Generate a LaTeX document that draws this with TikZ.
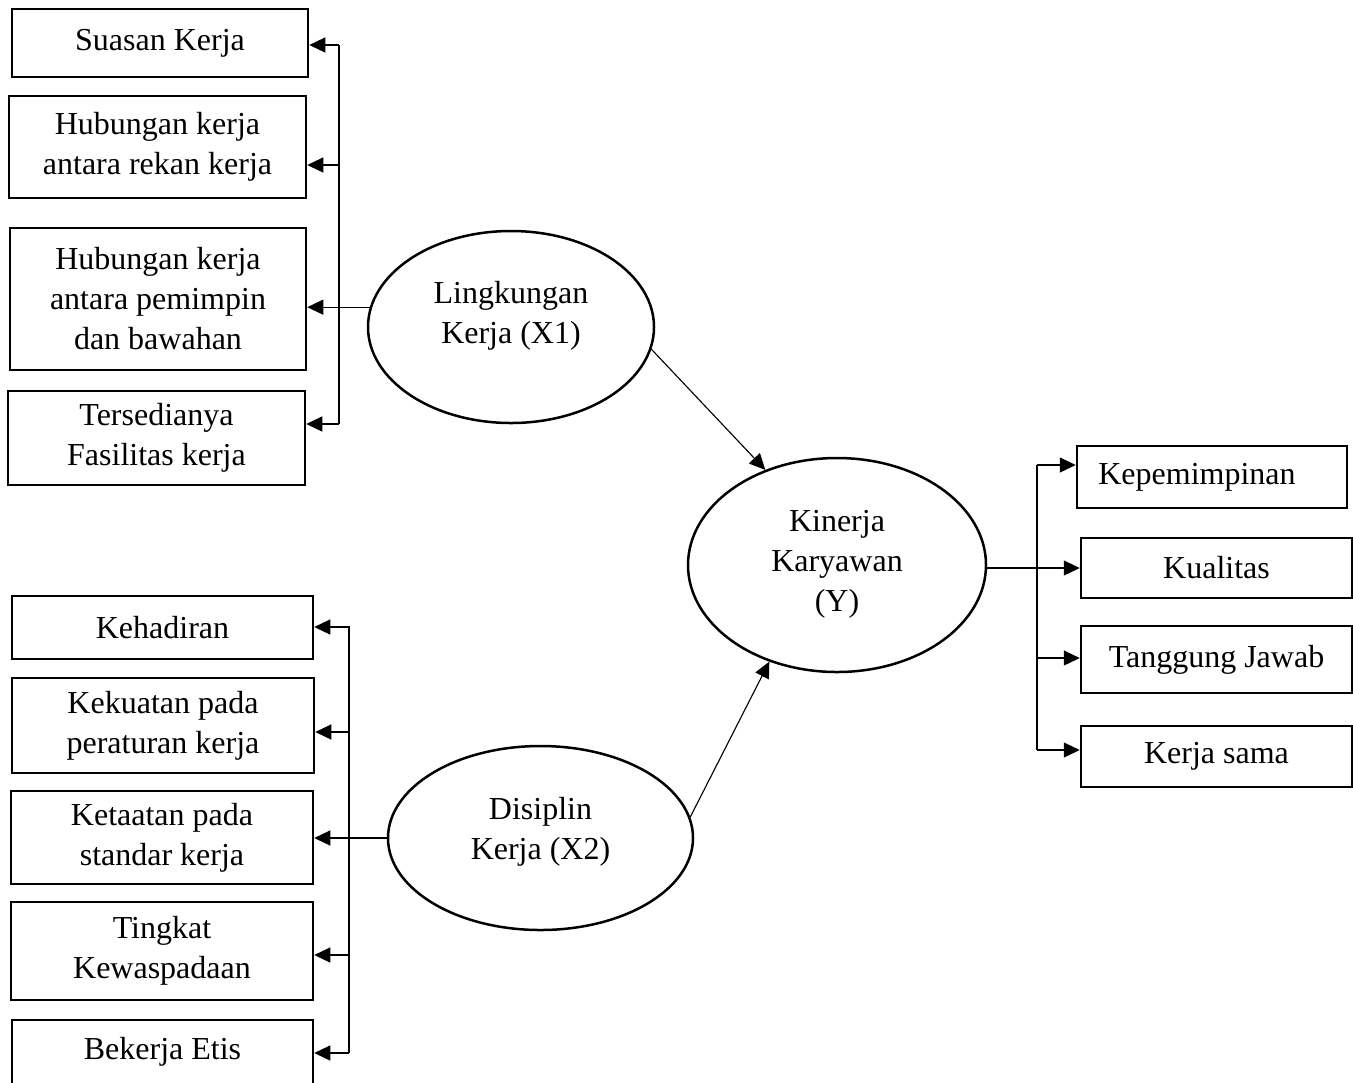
\documentclass[tikz,border=0pt]{standalone}
\usepackage{fontspec}
\setmainfont{Liberation Serif}
\usetikzlibrary{arrows.meta,shapes.geometric}

\begin{document}
\begin{tikzpicture}[x=0.4pt,y=-0.4pt,
  font=\fontsize{12.8}{16}\selectfont,
  ind/.style={draw, line width=1pt, align=center, inner sep=0pt},
  var/.style={draw, ellipse, line width=1pt, inner sep=0pt},
  lbl/.style={align=center, inner sep=0pt},
  arr/.style={line width=0.45pt, -{Triangle[length=6.4pt,width=6pt]}},
  ln/.style={line width=0.45pt}]
\useasboundingbox (0,0) rectangle (1353,1082);

% latent variables
\node[var, minimum width=114.4pt, minimum height=76.8pt] (lk) at (511,327) {};
\node[lbl] (lkt) at (511,316) {Lingkungan\\Kerja (X1)};
\node[var, minimum width=122pt, minimum height=73.6pt] (dk) at (540.5,838) {};
\node[lbl] (dkt) at (540.5,832) {Disiplin\\Kerja (X2)};
\node[var, minimum width=119.2pt, minimum height=85.6pt] (ky) at (837,565) {};
\node[lbl] (kyt) at (837,564) {Kinerja\\Karyawan\\(Y)};

% indicators X1
\node[ind, minimum width=118.4pt, minimum height=27.2pt] (s1) at (160,43) {Suasan Kerja};
\node[ind, minimum width=118.8pt, minimum height=40.8pt] (s2) at (157.5,147) {Hubungan kerja\\antara rekan kerja};
\node[ind, minimum width=118.4pt, minimum height=56.8pt] (s3) at (158,299) {Hubungan kerja\\antara pemimpin\\dan bawahan};
\node[ind, minimum width=118.8pt, minimum height=37.6pt] (s4) at (156.5,438) {Tersedianya\\Fasilitas kerja};

% indicators X2
\node[ind, minimum width=120.4pt, minimum height=25.2pt] (d1) at (162.5,627.5) {Kehadiran};
\node[ind, minimum width=120.8pt, minimum height=38pt] (d2) at (163,725.5) {Kekuatan pada\\peraturan kerja};
\node[ind, minimum width=120.8pt, minimum height=37.2pt] (d3) at (162,837.5) {Ketaatan pada\\standar kerja};
\node[ind, minimum width=120.8pt, minimum height=39.2pt] (d4) at (162,951) {Tingkat\\Kewaspadaan};
\node[ind, minimum width=120.4pt, minimum height=25.6pt] (d5) at (162.5,1052) {Bekerja Etis};

% indicators Y
\node[ind, minimum width=108pt, minimum height=24.8pt] (r1) at (1212,477) {Kepemimpinan\hspace{12pt}};
\node[ind, minimum width=108.4pt, minimum height=24pt] (r2) at (1216.5,568) {Kualitas};
\node[ind, minimum width=108.4pt, minimum height=26.8pt] (r3) at (1216.5,659.5) {Tanggung Jawab};
\node[ind, minimum width=108.4pt, minimum height=24.4pt] (r4) at (1216.5,756.5) {Kerja sama};

% bus points
\coordinate (a1) at (339,45);
\coordinate (a2) at (339,165);
\coordinate (a4) at (339,424);
\coordinate (b1) at (350,627);
\coordinate (b2) at (349,732);
\coordinate (b4) at (349,955);
\coordinate (b5) at (349,1053);
\coordinate (c1) at (1037,465);
\coordinate (c3) at (1037,658);
\coordinate (c4) at (1037,750);

% paths
\draw[arr] (lk.-9) -- (ky.127);
\draw[arr] (dk.8) -- (ky.235);

\draw[ln] (a1) -- (a4);
\draw[arr] (a1) -- (a1 -| s1.east);
\draw[arr] (a2) -- (a2 -| s2.east);
\draw[arr] (lk.172) -- (lk.172 -| s3.east);
\draw[arr] (a4) -- (a4 -| s4.east);

\draw[ln] (b1 -| b2) -- (b5);
\draw[arr] (b1) -- (b1 -| d1.east);
\draw[arr] (b2) -- (b2 -| d2.east);
\draw[arr] (dk.west) -- (dk.west -| d3.east);
\draw[arr] (b4) -- (b4 -| d4.east);
\draw[arr] (b5) -- (b5 -| d5.east);

\draw[ln] (c1) -- (c4);
\draw[arr] (c1) -- (c1 -| r1.west);
\draw[arr] (ky.east |- r2.west) -- (r2.west);
\draw[arr] (c3) -- (c3 -| r3.west);
\draw[arr] (c4) -- (c4 -| r4.west);
\end{tikzpicture}
\end{document}
